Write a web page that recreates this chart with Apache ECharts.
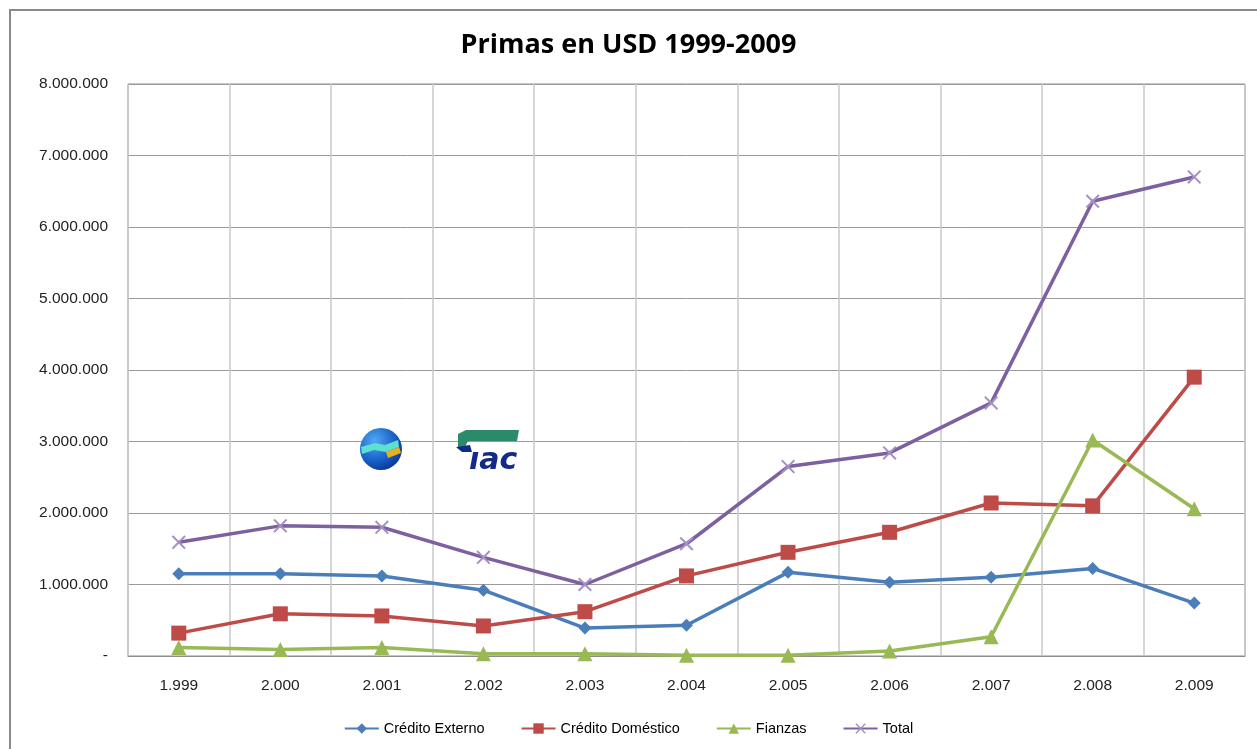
<!DOCTYPE html>
<html><head><meta charset="utf-8">
<script src="https://cdn.jsdelivr.net/npm/echarts@6/dist/echarts.min.js"></script>
<style>html,body{margin:0;padding:0;background:#fff}#c{width:1257px;height:749px}</style>
</head><body><div id="c"></div>
<script>
const years = ['1.999','2.000','2.001','2.002','2.003','2.004','2.005','2.006','2.007','2.008','2.009'];
const creditoExterno = [1150000,1150000,1120000,920000,390000,430000,1170000,1030000,1100000,1225000,740000];
const creditoDomestico = [320000,590000,560000,420000,620000,1120000,1450000,1730000,2140000,2100000,3900000];
const fianzas = [120000,90000,120000,30000,30000,10000,10000,70000,270000,3020000,2060000];
const total = [1590000,1820000,1800000,1380000,1000000,1570000,2650000,2840000,3540000,6360000,6700000];
const seriesNames = ['Crédito Externo','Crédito Doméstico','Fianzas','Total'];

const fmt = v => v === 0 ? '-' : String(v).replace(/\B(?=(\d{3})+(?!\d))/g, '.');
const xPath = 'path://M0,1 L1,0 L5,4 L9,0 L10,1 L6,5 L10,9 L9,10 L5,6 L1,10 L0,9 L4,5 Z';
const font = 'Liberation Sans, Arial, sans-serif';

const chart = echarts.init(document.getElementById('c'), null, {renderer:'canvas'});
chart.setOption({
  animation:false,
  backgroundColor:'#fff',
  title:{text:'Primas en USD 1999-2009', left:'center', top:27,
    textStyle:{fontFamily:'Open Sans, sans-serif', fontSize:27, fontWeight:'bold', color:'#000'}},
  grid:{left:128, right:12, top:84, bottom:93, show:true, borderColor:'#8c8c8c', borderWidth:1},
  legend:{bottom:8, left:'center', itemWidth:34, itemHeight:13, itemGap:36,
    textStyle:{fontFamily:font, fontSize:14.5, color:'#000'}, data:seriesNames},
  xAxis:{type:'category', data:years, boundaryGap:true,
    axisLine:{lineStyle:{color:'#8c8c8c'}}, axisTick:{show:false},
    axisLabel:{fontFamily:font, fontSize:15.5, color:'#222', margin:22},
    splitLine:{show:true, lineStyle:{color:'#c8c8c8', width:1.5}}},
  yAxis:{type:'value', min:0, max:8000000, interval:1000000,
    axisLine:{show:false}, axisTick:{show:false},
    axisLabel:{fontFamily:font, fontSize:15.5, color:'#222', margin:20, formatter:fmt},
    splitLine:{lineStyle:{color:'#9a9a9a', width:1}}},
  series:[
    {name:seriesNames[0], type:'line', data:creditoExterno, symbol:'diamond', symbolSize:13,
      lineStyle:{color:'#4a7ebb', width:3.5}, itemStyle:{color:'#4a7ebb'}},
    {name:seriesNames[1], type:'line', data:creditoDomestico, symbol:'rect', symbolSize:15,
      lineStyle:{color:'#be4b48', width:3.5}, itemStyle:{color:'#be4b48'}},
    {name:seriesNames[2], type:'line', data:fianzas, symbol:'triangle', symbolSize:15,
      lineStyle:{color:'#98b954', width:3.5}, itemStyle:{color:'#98b954'}},
    {name:seriesNames[3], type:'line', data:total, symbol:xPath, symbolSize:14,
      lineStyle:{color:'#7d60a0', width:3.5}, itemStyle:{color:'#a590c4'}}
  ],
  graphic:[
    {type:'rect', shape:{x:10, y:10, width:1270, height:780}, silent:true,
      style:{fill:null, stroke:'#8a8a8a', lineWidth:2}},
    {type:'circle', shape:{cx:381, cy:449, r:21}, z:10,
      style:{fill:{type:'radial', x:0.35, y:0.3, r:0.8,
        colorStops:[{offset:0,color:'#4fa8f0'},{offset:0.6,color:'#1860c8'},{offset:1,color:'#0a2f8a'}]}}},
    {type:'polygon', shape:{points:[[361,447],[375,443],[385,445],[398,440],[399,447],[386,452],[374,450],[362,454]]}, z:11,
      style:{fill:'#5ee0d0'}},
    {type:'polygon', shape:{points:[[386,452],[399,447],[401,453],[388,458]]}, z:11,
      style:{fill:'#e8b020'}},
    {type:'polygon', shape:{points:[[458,434],[466,430],[519,430],[517,441],[468,441],[465,447],[458,447]]}, z:10,
      style:{fill:'#2a8a6a'}},
    {type:'polygon', shape:{points:[[456,447],[470,445],[472,452],[462,452]]}, z:10,
      style:{fill:'#142a8a'}},
    {type:'text', x:469, y:446, z:10,
      style:{text:'ıac', fontFamily:'DejaVu Sans, sans-serif', fontStyle:'italic', fontWeight:'bold', fontSize:30, fill:'#142a8a'}}
  ]
});
</script></body></html>
